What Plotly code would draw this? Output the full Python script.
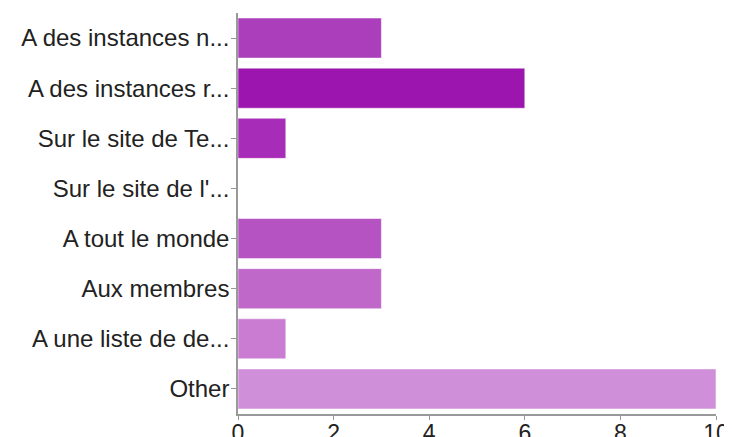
import plotly.graph_objects as go

categories = [
    "A des instances n...",
    "A des instances r...",
    "Sur le site de Te...",
    "Sur le site de l'...",
    "A tout le monde",
    "Aux membres",
    "A une liste de de...",
    "Other",
]
values = [3, 6, 1, 0, 3, 3, 1, 10]
colors = ["#AB3FBB", "#9C15AF", "#A72CB7", "#A83AB9", "#B553C3", "#C067CA", "#CA7CD2", "#D090D9"]
x_ticks = [0, 2, 4, 6, 8, 10]

fig = go.Figure(
    go.Bar(
        y=categories,
        x=values,
        orientation="h",
        marker=dict(color=colors, line=dict(color="rgba(255,255,255,0.5)", width=1)),
        hoverinfo="x+y",
    )
)

# The page body has an 8px margin, so the figure is sized to fit the window.
fig.update_layout(
    width=724,
    height=429,
    margin=dict(l=230, r=16, t=5, b=23, autoexpand=False),
    paper_bgcolor="white",
    plot_bgcolor="white",
    bargap=0.2,
    showlegend=False,
    font=dict(family="Liberation Sans, Arial, sans-serif", color="#222222"),
)
fig.update_yaxes(
    categoryorder="array",
    categoryarray=categories,
    autorange="reversed",
    automargin=False,
    showline=True,
    linecolor="#999999",
    linewidth=1.5,
    ticks="outside",
    ticklen=5,
    tickcolor="#999999",
    tickfont=dict(size=24, color="#222222"),
    showgrid=False,
    zeroline=False,
    ticklabelstandoff=-3,
)
fig.update_xaxes(
    range=[0, 10],
    tickvals=x_ticks,
    automargin=False,
    showline=True,
    linecolor="#999999",
    linewidth=1.5,
    ticks="outside",
    ticklen=4,
    tickcolor="#999999",
    tickfont=dict(size=23, color="#222222"),
    showgrid=False,
    zeroline=False,
    ticklabelstandoff=-6,
)

fig.write_html("out.html")
